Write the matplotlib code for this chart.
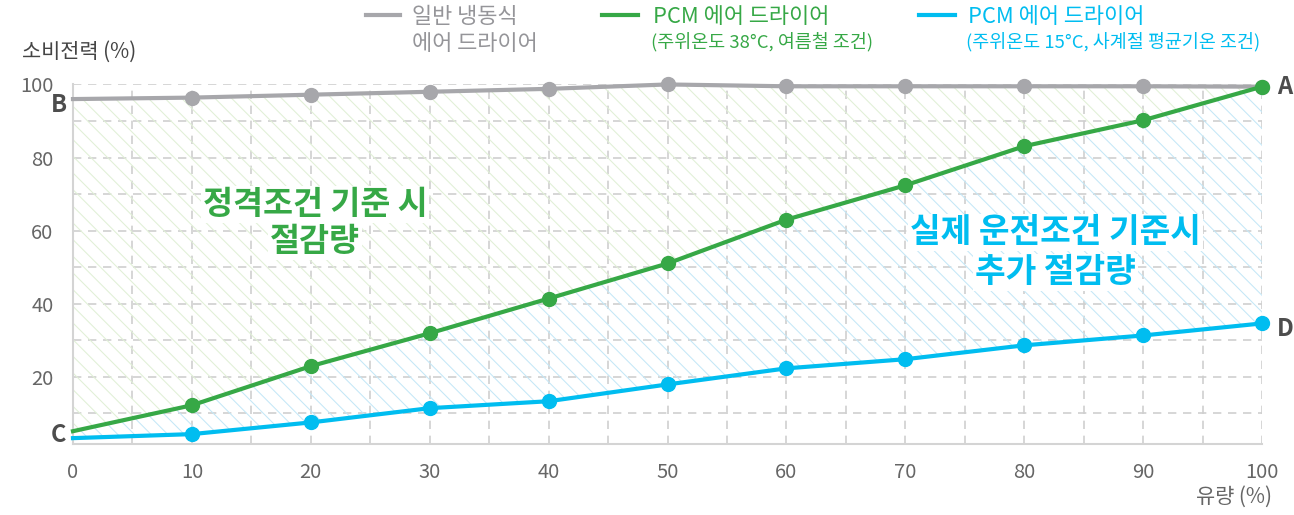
import matplotlib.pyplot as plt
from matplotlib.lines import Line2D

plt.rcParams['font.family'] = ['Noto Sans CJK KR', 'DejaVu Sans']
plt.rcParams['hatch.linewidth'] = 0.75

# 유량 (%)
flow = [0, 10, 20, 30, 40, 50, 60, 70, 80, 90, 100]
# 일반 냉동식 에어 드라이어
general = [96.0, 96.4, 97.2, 98.0, 98.8, 100.0, 99.5, 99.5, 99.5, 99.5, 99.4]
# PCM 에어 드라이어 (38°C)
pcm_summer = [5.1, 12.2, 22.9, 31.9, 41.4, 51.0, 63.0, 72.4, 83.1, 90.2, 99.4]
# PCM 에어 드라이어 (15°C)
pcm_avg = [3.2, 4.3, 7.5, 11.4, 13.3, 17.9, 22.3, 24.8, 28.6, 31.3, 34.6]

yticks = [20, 40, 60, 80, 100]
xticks = [0, 10, 20, 30, 40, 50, 60, 70, 80, 90, 100]

gray = '#a7a7ab'
green = '#36a846'
blue = '#00bdf0'
dark = '#4d4d4d'
tick_c = '#666666'

fig = plt.figure(figsize=(12.94, 5.15), dpi=100)
ax = fig.add_axes([0.0564, 0.1379, 0.9189, 0.6981])

# hatched areas
ax.fill_between(flow, pcm_summer, general, facecolor='none', edgecolor='#e0f0d6',
                hatch='\\\\', linewidth=0, zorder=1)
ax.fill_between(flow, pcm_avg, pcm_summer, facecolor='none', edgecolor='#c4e7f7',
                hatch='\\\\', linewidth=0, zorder=1)

# grid
for v in range(10, 101, 10):
    ax.axhline(v, color='#cfcfcf', lw=1.2, ls=(0, (5, 4)), zorder=0.5)
for v in range(5, 101, 5):
    ax.axvline(v, color='#cfcfcf', lw=1.2, ls=(0, (5, 4)), zorder=0.5)

# lines
ax.plot(flow, general, color=gray, lw=3, zorder=3, clip_on=False)
ax.plot(flow[1:], general[1:], 'o', color=gray, ms=10, zorder=3, clip_on=False)
ax.plot(flow, pcm_avg, color=blue, lw=3, zorder=4, clip_on=False)
ax.plot(flow[1:], pcm_avg[1:], 'o', color=blue, ms=10, zorder=4, clip_on=False)
ax.plot(flow, pcm_summer, color=green, lw=3, zorder=5, clip_on=False)
ax.plot(flow[1:], pcm_summer[1:], 'o', color=green, ms=10, zorder=5, clip_on=False)

ax.set_xlim(0, 100)
ax.set_ylim(1.6, 100)
ax.set_xticks(xticks)
ax.set_yticks(yticks)
ax.tick_params(axis='both', length=0, labelsize=14.5, labelcolor=tick_c)
ax.tick_params(axis='x', pad=13)
ax.tick_params(axis='y', pad=14)
for s in ['top', 'right']:
    ax.spines[s].set_visible(False)
for s in ['left', 'bottom']:
    ax.spines[s].set_color('#d4d4d4')
    ax.spines[s].set_linewidth(1.5)

# point letters
lab = dict(color=dark, fontsize=17, fontweight='bold', textcoords='offset points',
           va='center', annotation_clip=False)
ax.annotate('B', (flow[0], general[0]), xytext=(-4, -4), ha='right', **lab)
ax.annotate('C', (flow[0], pcm_avg[0]), xytext=(-5, 2), ha='right', **lab)
ax.annotate('A', (flow[-1], pcm_summer[-1]), xytext=(11, 0), ha='left', **lab)
ax.annotate('D', (flow[-1], pcm_avg[-1]), xytext=(11, -4), ha='left', **lab)

# area labels
box = dict(facecolor='white', edgecolor='none', pad=1.5)
ax.text(20.35, 67.2, '정격조건 기준 시', color=green, fontsize=23.5, fontweight='bold',
        ha='center', va='center', bbox=box, zorder=6)
ax.text(20.35, 57.1, '절감량', color=green, fontsize=23.5, fontweight='bold',
        ha='center', va='center', bbox=box, zorder=6)
ax.text(82.6, 59.5, '실제 운전조건 기준시', color=blue, fontsize=24, fontweight='bold',
        ha='center', va='center', bbox=box, zorder=6)
ax.text(82.6, 48.6, '추가 절감량', color=blue, fontsize=24, fontweight='bold',
        ha='center', va='center', bbox=box, zorder=6)

# axis titles
fig.text(22 / 1294, 1 - 52 / 515, '소비전력 (%)', fontsize=15, color='#444444',
         ha='left', va='center')
fig.text(1272 / 1294, 1 - 497 / 515, '유량 (%)', fontsize=15, color=tick_c,
         ha='right', va='center')

# legend
def handle(x0, x1, color):
    fig.add_artist(Line2D([x0 / 1294, x1 / 1294], [1 - 15 / 515, 1 - 15 / 515],
                          color=color, lw=3, transform=fig.transFigure))

handle(366, 400, gray)
fig.text(412 / 1294, 1 - 17 / 515, '일반 냉동식', color='#959599', fontsize=15.8, va='center')
fig.text(412 / 1294, 1 - 44 / 515, '에어 드라이어', color='#959599', fontsize=15.8, va='center')

handle(602, 638, green)
fig.text(653 / 1294, 1 - 17 / 515, 'PCM 에어 드라이어', color=green, fontsize=15.8, va='center')
fig.text(651 / 1294, 1 - 42 / 515, '(주위온도 38°C, 여름철 조건)', color=green, fontsize=13.3,
         va='center')

handle(919, 955, blue)
fig.text(968 / 1294, 1 - 17 / 515, 'PCM 에어 드라이어', color=blue, fontsize=15.8, va='center')
fig.text(966 / 1294, 1 - 42 / 515, '(주위온도 15°C, 사계절 평균기온 조건)', color=blue,
         fontsize=13.3, va='center')

fig.savefig('out.png', dpi=100)
